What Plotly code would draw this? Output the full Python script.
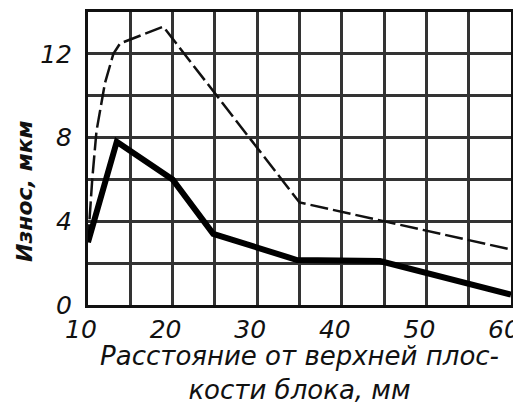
import plotly.graph_objects as go

# Distance from upper plane of the block, mm
solid_x = [10, 13.4, 20, 24.8, 34.7, 44.5, 60]
solid_y = [3.0, 7.8, 6.0, 3.4, 2.15, 2.1, 0.5]

dash_x = [10, 10.5, 11, 12, 13, 13.8, 18.9, 35, 60]
dash_y = [3.0, 6.0, 8.3, 10.6, 12.0, 12.5, 13.3, 4.9, 2.65]

x_ticks = [10, 20, 30, 40, 50, 60]
y_ticks = [0, 4, 8, 12]

x_title = "Расстояние от верхней плос-<br>кости блока, мм"
y_title = "Износ, мкм"

font_family = "DejaVu Sans, Liberation Sans, sans-serif"

fig = go.Figure()
fig.add_trace(go.Scatter(x=dash_x, y=dash_y, mode="lines",
                         line=dict(color="#111", width=2.5, dash="18px,5px"),
                         showlegend=False, hoverinfo="skip"))
fig.add_trace(go.Scatter(x=solid_x, y=solid_y, mode="lines",
                         line=dict(color="#000", width=6),
                         showlegend=False, hoverinfo="skip"))

fig.add_annotation(text=y_title, xref="paper", yref="paper", x=0, y=0.386,
                   xanchor="center", yanchor="middle", xshift=-63, textangle=-90,
                   showarrow=False,
                   font=dict(size=22, style="italic", weight="bold", family=font_family, color="#111"))

fig.update_layout(
    width=513, height=397,
    margin=dict(l=80, r=10, t=4, b=100),
    paper_bgcolor="white", plot_bgcolor="white",
    font=dict(family=font_family, color="#111"),
    xaxis=dict(range=[10, 60], tickvals=x_ticks, ticktext=[str(v) for v in x_ticks],
               tickfont=dict(size=25, style="italic"),
               showgrid=True, gridcolor="#333", gridwidth=2.5,
               minor=dict(dtick=5, tick0=10, showgrid=True, gridcolor="#333", gridwidth=2.5),
               showline=True, linecolor="#111", linewidth=3, mirror=True,
               ticks="", ticklabelstandoff=0, ticklabelshift=-7, zeroline=False, automargin=False,
               ticklabeloverflow="allow",
               title=dict(text=x_title, font=dict(size=26, style="italic"), standoff=4)),
    yaxis=dict(range=[0, 14], tickvals=y_ticks, ticktext=[str(v) for v in y_ticks],
               tickfont=dict(size=25, style="italic"),
               showgrid=True, gridcolor="#333", gridwidth=2.5,
               minor=dict(dtick=2, tick0=0, showgrid=True, gridcolor="#333", gridwidth=2.5),
               showline=True, linecolor="#111", linewidth=3, mirror=True,
               ticks="", ticklabelstandoff=8, zeroline=False, automargin=False),
)

fig.write_html("out.html")
